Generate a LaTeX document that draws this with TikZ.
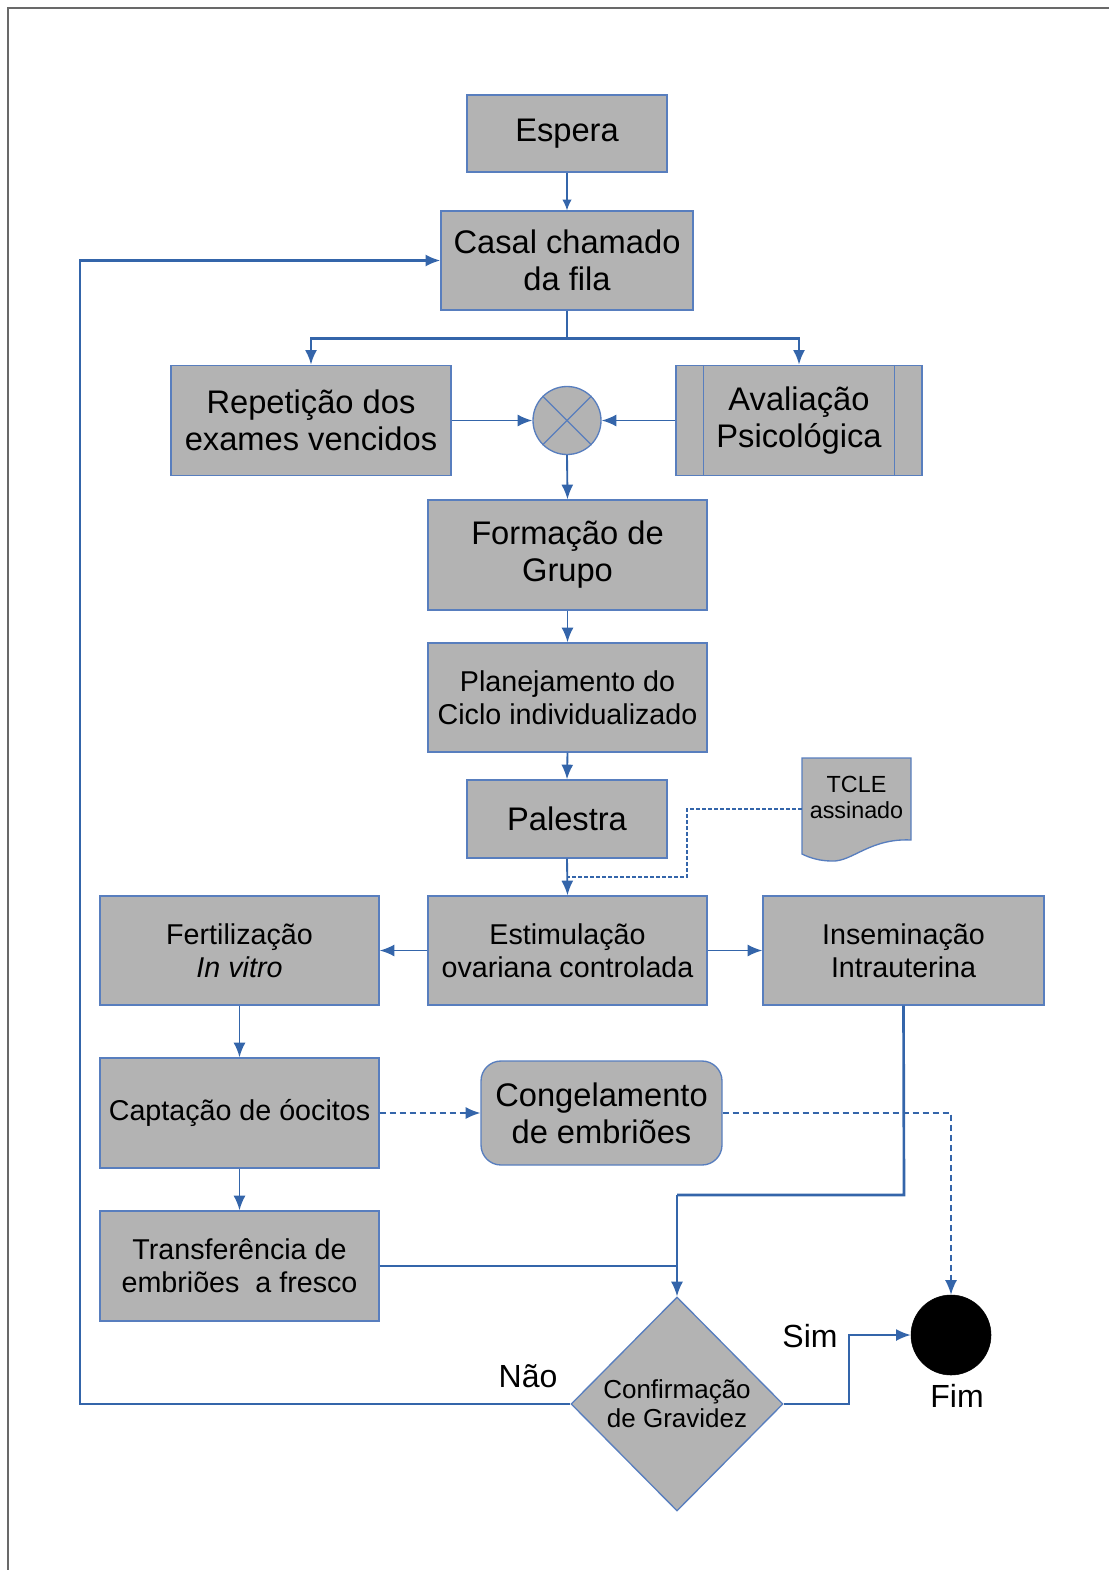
\documentclass[tikz,border=0pt]{standalone}
\usepackage{fontspec}
\setmainfont{Liberation Sans}
\usetikzlibrary{arrows.meta,shapes.geometric}
\definecolor{boxfill}{RGB}{179,179,179}
\definecolor{boxline}{RGB}{88,126,190}
\definecolor{connblue}{RGB}{52,101,170}
\definecolor{framegray}{RGB}{105,105,105}
\begin{document}
\begin{tikzpicture}[x=0.75pt,y=-0.75pt,
  wh/.style 2 args={minimum width=#1*0.75pt,minimum height=#2*0.75pt},
  proc/.style={draw=boxline,fill=boxfill,line width=1pt,inner sep=0pt,align=center,text=black},
  bigtxt/.style={font=\fontsize{24.5}{27.75}\selectfont},
  smalltxt/.style={font=\fontsize{21.5}{24.75}\selectfont},
  tip/.style={-{Latex[length=11pt,width=9pt]}},
  flow/.style={draw=connblue,line width=1.4pt,tip},
  thinflow/.style={draw=connblue,line width=0.9pt,-{Latex[length=8pt,width=7pt]}},
  thickflow/.style={draw=connblue,line width=2pt,tip},
  dashflow/.style={draw=connblue,line width=1.2pt,dash pattern=on 4.5pt off 3pt,tip},
  lbl/.style={font=\fontsize{24}{28}\selectfont,inner sep=0pt}
]
\useasboundingbox (0,0) rectangle (1109,1570);
% frame
\draw[framegray,line width=1.5pt] (8,1580) -- (8,8) -- (1120,8);

% nodes
\node[proc,bigtxt,wh={200}{77}] (esp) at (567,133.5) {Espera};
\node[proc,bigtxt,wh={252}{99}] (casal) at (567,260.5) {Casal chamado\\da fila};
\node[proc,bigtxt,wh={280}{110}] (rep) at (311,420.5) {Repetição dos\\exames vencidos};
\node[draw=boxline,fill=boxfill,line width=1pt,circle,minimum size=68*0.75pt,inner sep=0pt] (merge) at (567,420.5) {};
\draw[boxline,line width=0.9pt] (merge.north west) -- (merge.south east) (merge.north east) -- (merge.south west);
\node[proc,bigtxt,wh={246}{110}] (aval) at (799,420.5) {Avaliação\\Psicológica};
\draw[boxline,line width=1pt] ([xshift=28*0.75pt]aval.north west) -- ([xshift=28*0.75pt]aval.south west)
  ([xshift=-28*0.75pt]aval.north east) -- ([xshift=-28*0.75pt]aval.south east);
\node[proc,bigtxt,wh={279}{110}] (form) at (567.5,555) {Formação de\\Grupo};
\node[proc,smalltxt,wh={279}{109}] (plan) at (567.5,697.5) {Planejamento do\\Ciclo individualizado};
\node[proc,bigtxt,wh={200}{78}] (pal) at (567,819) {Palestra};
% TCLE document
\node[inner sep=0pt,wh={109}{102}] (tcle) at (856.5,809) {};
\fill[boxfill] (802,758) -- (911,758) -- (911,840) .. controls (870,838) and (852,862) .. (832,861) .. controls (820,861) and (810,858) .. (802,854) -- cycle;
\draw[boxline,line width=1pt] (802,758) -- (911,758) -- (911,840) .. controls (870,838) and (852,862) .. (832,861) .. controls (820,861) and (810,858) .. (802,854) -- cycle;
\node[align=center,inner sep=0pt,font=\fontsize{17.5}{19.5}\selectfont] at (856.5,797) {TCLE\\assinado};

\node[proc,smalltxt,wh={279}{109}] (estim) at (567.5,950.5) {Estimulação\\ovariana controlada};
\node[proc,smalltxt,wh={279}{109}] (fiv) at (239.5,950.5) {Fertilização\\\textit{In vitro}};
\node[proc,smalltxt,wh={281}{109}] (ins) at (903.5,950.5) {Inseminação\\Intrauterina};
\node[proc,smalltxt,wh={279}{110}] (capt) at (239.5,1113) {Captação de óocitos};
\node[proc,bigtxt,wh={241}{104},rounded corners=15pt] (cong) at (601.5,1113) {Congelamento\\de embriões};
\node[proc,smalltxt,wh={279}{110}] (transf) at (239.5,1266) {Transferência de\\embriões\ \ a fresco};
\node[proc,diamond,aspect=1,wh={212}{214},font=\fontsize{19.5}{21.75}\selectfont] (conf) at (677,1404) {Confirmação\\de Gravidez};
\node[circle,fill=black,draw=black,minimum size=80*0.75pt,inner sep=0pt] (fim) at (951,1335) {};

% labels
\node[lbl] (lnao) at (528,1376) {Não};
\node[lbl] (lsim) at (810,1336) {Sim};
\node[lbl] (lfim) at (957,1396) {Fim};

% connectors
\draw[thinflow] (esp.south) -- (casal.north);
\draw[thickflow] (casal.south) -- ++(0,28) -| (rep.north);
\draw[thickflow] (casal.south) -- ++(0,28) -| (aval.north);
\draw[flow] (rep.east) -- (merge.west);
\draw[flow] (aval.west) -- (merge.east);
\draw[flow] (merge.south) -- (form.north);
\draw[flow] (form.south) -- (plan.north);
\draw[flow] (plan.south) -- (pal.north);
\draw[flow] (pal.south) -- (estim.north);
\coordinate (tjoin) at (567,877);
\draw[draw=connblue,line width=1.5pt,dash pattern=on 3pt off 1.5pt] (tcle.west) -- (687,809) |- (tjoin);
\draw[flow] (estim.west) -- (fiv.east);
\draw[flow] (estim.east) -- (ins.west);
\draw[flow] (fiv.south) -- (capt.north);
\draw[flow] (capt.south) -- (transf.north);
\draw[dashflow] (capt.east) -- (cong.west);
\draw[dashflow] (cong.east) -| (fim.north);
\draw[draw=connblue,line width=2pt] (ins.south) -- (904,1195) -- (677,1195);
\draw[flow] (677,1195) -- (conf.north);
\draw[draw=connblue,line width=1.1pt] (transf.east) -- (transf.east -| conf.north);
\draw[flow] (conf.east) -- (849,1404) |- (fim.west);
\draw[flow,line width=1.8pt] (conf.west) -- (80,1404) |- (casal.west);
\end{tikzpicture}
\end{document}
